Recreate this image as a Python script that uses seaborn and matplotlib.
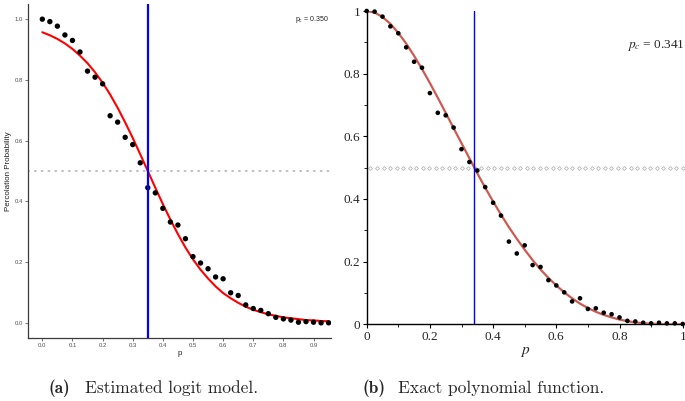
import numpy as np
import pandas as pd
import matplotlib
matplotlib.use("Agg")
import matplotlib.pyplot as plt
import seaborn as sns

# ---------------- data ----------------
p_grid = [round(0.025 * i, 3) for i in range(39)]          # 0 .. 0.95
sim_left = [1.000, 0.992, 0.977, 0.948, 0.930, 0.892, 0.829, 0.809, 0.787,
            0.682, 0.661, 0.611, 0.587, 0.527, 0.445, 0.428, 0.377, 0.332,
            0.322, 0.277, 0.218, 0.197, 0.178, 0.151, 0.145, 0.099, 0.090,
            0.059, 0.047, 0.041, 0.030, 0.018, 0.013, 0.009, 0.002, 0.004,
            0.002, 0.000, 0.000]

curve_p_left = [round(0.025 * i, 3) for i in range(39)]
curve_left = [0.957, 0.947, 0.935, 0.920, 0.902, 0.880, 0.855, 0.825, 0.791,
              0.752, 0.708, 0.660, 0.609, 0.555, 0.500, 0.445, 0.391, 0.340,
              0.292, 0.248, 0.209, 0.175, 0.146, 0.120, 0.098, 0.081, 0.066,
              0.053, 0.043, 0.035, 0.028, 0.023, 0.018, 0.015, 0.012, 0.009,
              0.008, 0.006, 0.005]

p_grid_right = [round(0.025 * i, 3) for i in range(41)]    # 0 .. 1
sim_right = [1.000, 0.998, 0.982, 0.951, 0.929, 0.884, 0.838, 0.819, 0.738,
             0.675, 0.667, 0.628, 0.559, 0.518, 0.491, 0.438, 0.388, 0.347,
             0.264, 0.226, 0.252, 0.189, 0.183, 0.141, 0.124, 0.102, 0.073,
             0.083, 0.049, 0.051, 0.037, 0.032, 0.022, 0.011, 0.009, 0.005,
             0.003, 0.005, 0.003, 0.003, 0.001]

curve_p_right = [round(0.025 * i, 3) for i in range(41)]
curve_right = [1.000, 0.995, 0.981, 0.959, 0.930, 0.896, 0.857, 0.815, 0.770,
               0.723, 0.675, 0.626, 0.578, 0.530, 0.482, 0.436, 0.392, 0.350,
               0.310, 0.273, 0.238, 0.205, 0.175, 0.148, 0.124, 0.102, 0.083,
               0.066, 0.052, 0.040, 0.030, 0.022, 0.015, 0.010, 0.006, 0.0035,
               0.0018, 0.0007, 0.0002, 0.00003, 0.0]

pc_left = 0.350
pc_right = 0.341

left_xticks = [0.0, 0.1, 0.2, 0.3, 0.4, 0.5, 0.6, 0.7, 0.8, 0.9]
left_yticks = [0.0, 0.2, 0.4, 0.6, 0.8, 1.0]
right_ticks = [0.0, 0.2, 0.4, 0.6, 0.8, 1.0]
right_ticklabels = ["0", "0.2", "0.4", "0.6", "0.8", "1"]

caption_a = ("(a)", "Estimated logit model.")
caption_b = ("(b)", "Exact polynomial function.")

# ---------------- style ----------------
sns.set_style("white")
plt.rcParams["font.family"] = ["Liberation Sans", "DejaVu Sans"]

W, H = 685, 401
fig = plt.figure(figsize=(W / 100, H / 100), dpi=100)

def px_axes(x0, y0, x1, y1):
    return fig.add_axes([x0 / W, 1 - y1 / H, (x1 - x0) / W, (y1 - y0) / H])

# ---------------- left panel ----------------
ax1 = px_axes(28, 4, 331, 338)
df_l = pd.DataFrame({"p": p_grid, "prob": sim_left})
df_lc = pd.DataFrame({"p": curve_p_left, "prob": curve_left})

ax1.axhline(0.5, color="#bdbdbd", lw=1.4, ls=(0, (0.5, 3.0)),
            dash_capstyle="round", zorder=1)
sns.lineplot(data=df_lc, x="p", y="prob", ax=ax1, color="#ff0000", lw=1.5,
             zorder=3)
sns.scatterplot(data=df_l, x="p", y="prob", ax=ax1, color="black", s=15,
                edgecolor="none", zorder=4)
ax1.axvline(pc_left, color="#0000ff", lw=1.6, zorder=5)

ax1.set_xlim(-0.0475, 0.958)
ax1.set_ylim(-0.05, 1.05)
ax1.set_xticks(left_xticks)
ax1.set_xticklabels([f"{v:.1f}" for v in left_xticks])
ax1.set_yticks(left_yticks)
ax1.set_yticklabels([f"{v:.1f}" for v in left_yticks])
for s in ["top", "right"]:
    ax1.spines[s].set_visible(False)
for s in ["left", "bottom"]:
    ax1.spines[s].set_color("#3a3a3a")
    ax1.spines[s].set_linewidth(0.9)
ax1.tick_params(axis="both", labelsize=4.3, labelcolor="#4d4d4d", length=2,
                width=0.5, color="#3a3a3a", pad=1.5, left=True, bottom=True)
ax1.set_xlabel("p", fontsize=5.8, color="#222222", labelpad=1.5)
ax1.set_ylabel("Percolation Probability", fontsize=5.8, color="#222222",
               labelpad=2)
ax1.text(0.952, 1.0, "p$_{\\mathregular{c}}$ = %.3f" % pc_left, fontsize=5,
         ha="right", va="center", color="#222222",
         math_fontfamily="dejavusans")

# ---------------- right panel ----------------
ax2 = px_axes(366.7, 11, 682.7, 324.3)
df_r = pd.DataFrame({"p": p_grid_right, "prob": sim_right})
df_rc = pd.DataFrame({"p": curve_p_right, "prob": curve_right})

ref_x = np.linspace(0.012, 1.0, 49)
ax2.plot(ref_x, np.full_like(ref_x, 0.5), ls="none", marker="D", ms=2.0,
         mfc="white", mec="#b8b8b8", mew=0.6, zorder=1, clip_on=False)
sns.lineplot(data=df_rc, x="p", y="prob", ax=ax2, color="#cc5a50", lw=1.6,
             zorder=3)
sns.scatterplot(data=df_r, x="p", y="prob", ax=ax2, color="black", s=11,
                edgecolor="none", zorder=4, clip_on=False)
ax2.axvline(pc_right, color="#0000ff", lw=1.0, zorder=5)

ax2.set_xlim(0, 1)
ax2.set_ylim(0, 1)
ax2.set_xticks(right_ticks)
ax2.set_xticklabels(right_ticklabels)
ax2.set_yticks(right_ticks)
ax2.set_yticklabels(right_ticklabels)
ax2.set_xticks([0.1, 0.3, 0.5, 0.7, 0.9], minor=True)
ax2.set_yticks([0.1, 0.3, 0.5, 0.7, 0.9], minor=True)
for s in ["top", "right"]:
    ax2.spines[s].set_visible(False)
for s in ["left", "bottom"]:
    ax2.spines[s].set_color("black")
    ax2.spines[s].set_linewidth(1.0)
ax2.tick_params(axis="both", which="major", labelsize=9.5, length=3,
                width=0.8, color="black", pad=1.5, left=True, bottom=True,
                direction="out")
ax2.tick_params(axis="both", which="minor", length=2, width=0.6,
                color="black", left=True, bottom=True, direction="out")
for lab in ax2.get_xticklabels() + ax2.get_yticklabels():
    lab.set_family("Liberation Serif")
ax2.set_xlabel("$p$", fontsize=11, math_fontfamily="stix", labelpad=1.5)
ax2.set_ylabel("")
ax2.text(0.825, 0.89, "$p_c$ = %.3f" % pc_right, fontsize=9.5, ha="left",
         va="center", family="Liberation Serif", math_fontfamily="stix")

# ---------------- captions ----------------
cy = 1 - 388 / H
fig.text(48 / W, cy, caption_a[0], fontsize=12.5, family="cmb10", ha="left",
         va="center")
fig.text(85 / W, cy, caption_a[1], fontsize=12.5, family="cmr10", ha="left",
         va="center")
fig.text(362 / W, cy, caption_b[0], fontsize=12.5, family="cmb10", ha="left",
         va="center")
fig.text(398 / W, cy, caption_b[1], fontsize=12.5, family="cmr10", ha="left",
         va="center")

fig.savefig("out.png", dpi=100)
